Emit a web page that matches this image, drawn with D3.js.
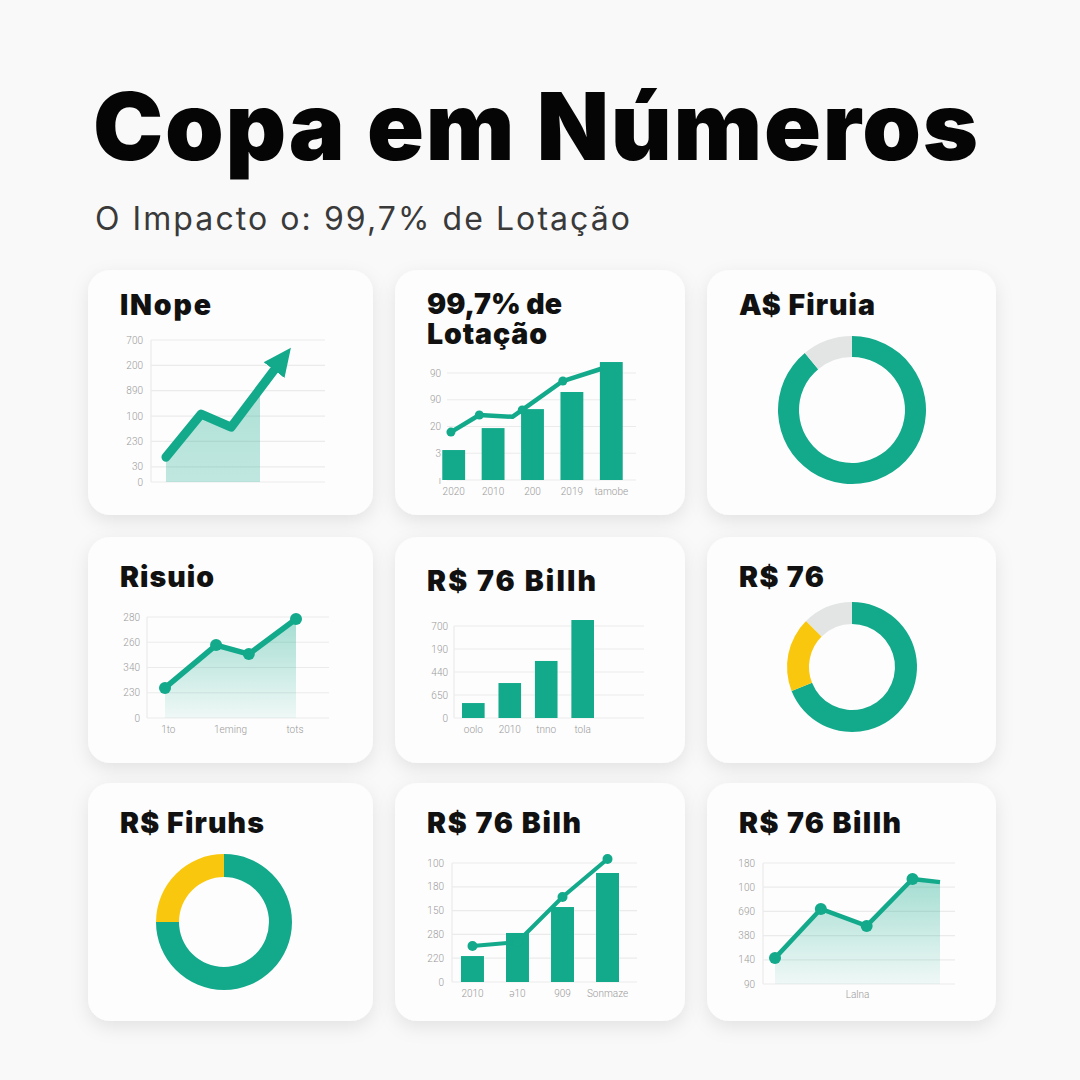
<!DOCTYPE html>
<html lang="pt">
<head>
<meta charset="UTF-8">
<title>Copa em Números</title>
<style>
  body { margin: 0; background: #f9f9f9; overflow: hidden; }
  svg { display: block; }
  .tick { font-family: Roboto, sans-serif; font-size: 10px; font-weight: 300; fill: #9a9a9a; }
  .card-title { font-family: Inter, sans-serif; font-weight: 900; font-size: 28.5px; fill: #111; }
</style>
</head>
<body>
<svg width="1080" height="1080"></svg>
<script src="https://d3js.org/d3.v7.min.js"></script>
<script>
// ---- data ----
const mainTitle = "Copa em Números";
const subTitle = "O Impacto o: 99,7% de Lotação";
const cardTitles = ["INope", "99,7% de|Lotação", "A$ Firuia", "Risuio", "R$ 76 Billh", "R$ 76", "R$ Firuhs", "R$ 76 Bilh", "R$ 76 Billh"];

// card 1 - INope (arrow line)
const nopeTicks = [0, 30, 80, 130, 180, 230, 280];
const nopeTickLabels = ["0", "30", "230", "100", "890", "200", "700"];
const nopeX = [0.43, 1.44, 2.3, 3.64];
const nopeY = [49, 134, 108, 230];
const nopeAreaEnd = 3.13;

// card 2 - Lotação (bars + line)
const lotCategories = ["2020", "2010", "200", "2019", "tamobe"];
const lotBars = [1.12, 1.94, 2.65, 3.29, 4.41];
const lotLineX = [0.43, 1.15, 1.99, 2.24, 3.27, 4.23];
const lotLineY = [1.79, 2.43, 2.36, 2.62, 3.70, 4.15];
const lotDots = [true, true, false, true, true, false];
const lotTicks = [0, 1, 2, 3, 4];
const lotTickLabels = ["ı", "3", "20", "90", "90"];

// card 3 - donut
const firuiaValues = [89, 11];

// card 4 - Risuio (area line)
const risuioX = [0, 1.56, 2.56, 4];
const risuioY = [1.19, 2.89, 2.53, 3.92];
const risuioTicks = [0, 1, 2, 3, 4];
const risuioTickLabels = ["0", "230", "340", "260", "280"];
const risuioXLabels = ["1to", "1eming", "tots"];
const risuioXLabelPos = [0.1, 2, 3.97];

// card 5 - Billh (bars)
const billhCategories = ["oolo", "2010", "tnno", "tola"];
const billhBars = [0.65, 1.52, 2.48, 4.26];
const billhTicks = [0, 1, 2, 3, 4];
const billhTickLabels = ["0", "650", "440", "190", "700"];

// card 6 - donut
const r76Values = [69, 18.5, 12.5];

// card 7 - donut
const firuhsValues = [75, 25];

// card 8 - Bilh (bars + line)
const bilhCategories = ["2010", "ə10", "909", "Sonmaze"];
const bilhBars = [1.09, 2.06, 3.15, 4.58];
const bilhLine = [1.51, 1.68, 3.57, 5.17];
const bilhTicks = [0, 1, 2, 3, 4, 5];
const bilhTickLabels = ["0", "220", "280", "150", "180", "100"];

// card 9 - Laina (area line)
const lainaX = [0, 1, 2, 3, 3.6];
const lainaY = [1.07, 3.10, 2.40, 4.34, 4.21];
const lainaDots = [true, true, true, true, false];
const lainaTicks = [0, 1, 2, 3, 4, 5];
const lainaTickLabels = ["90", "140", "380", "690", "100", "180"];
const lainaXLabel = "Lalna";

// ---- setup ----
const svg = d3.select("svg");
const teal = "#13a98b", yellow = "#f9c80e", ringGray = "#e3e5e5", gridColor = "#ebebeb";

const defs = svg.append("defs");
const shadow = defs.append("filter").attr("id", "shadow")
  .attr("x", "-20%").attr("y", "-20%").attr("width", "140%").attr("height", "150%");
shadow.append("feDropShadow").attr("dx", 0).attr("dy", 6).attr("stdDeviation", 9)
  .attr("flood-color", "#000").attr("flood-opacity", 0.09);

function gradient(id, top, bottom) {
  const g = defs.append("linearGradient").attr("id", id)
    .attr("x1", 0).attr("y1", 0).attr("x2", 0).attr("y2", 1);
  g.append("stop").attr("offset", "0%").attr("stop-color", teal).attr("stop-opacity", top);
  g.append("stop").attr("offset", "100%").attr("stop-color", teal).attr("stop-opacity", bottom);
}
gradient("fadeA", 0.36, 0.26);
gradient("fadeB", 0.38, 0.06);

defs.append("marker").attr("id", "arrow")
  .attr("markerUnits", "userSpaceOnUse")
  .attr("viewBox", "0 -14 28 28")
  .attr("refX", 6).attr("refY", 0)
  .attr("markerWidth", 28).attr("markerHeight", 28)
  .attr("orient", "auto")
  .append("path").attr("d", "M0,-13L28,0L0,13Z").attr("fill", teal);

// fit text to a target width by letter-spacing
function fitWidth(sel, width) {
  const n = sel.text().length;
  const w = sel.node().getComputedTextLength();
  sel.attr("letter-spacing", (width - w) / (n - 1));
}

// header
const t = svg.append("text").attr("x", 93).attr("y", 160)
  .style("font-family", "Inter, sans-serif").style("font-weight", 900)
  .style("font-size", "94px").attr("fill", "#050505").text(mainTitle);
fitWidth(t, 885);

const st = svg.append("text").attr("x", 95).attr("y", 230)
  .style("font-family", "Inter, sans-serif").style("font-weight", 400)
  .style("font-size", "32px").attr("fill", "#3a3a3a").text(subTitle);
fitWidth(st, 535);

// cards (tw = title widths in the reference)
const cardBoxes = [
  { x: 88, y: 270, w: 285, h: 245, ty: 315, tw: [91] },
  { x: 395, y: 270, w: 290, h: 245, ty: 314, tw: [135, 120] },
  { x: 707, y: 270, w: 289, h: 245, ty: 315, tw: [136] },
  { x: 88, y: 537, w: 285, h: 226, ty: 587, tw: [94] },
  { x: 395, y: 537, w: 290, h: 226, ty: 591, tw: [169] },
  { x: 707, y: 537, w: 289, h: 226, ty: 587, tw: [85] },
  { x: 88, y: 783, w: 285, h: 238, ty: 833, tw: [144] },
  { x: 395, y: 783, w: 290, h: 238, ty: 833, tw: [154] },
  { x: 707, y: 783, w: 289, h: 238, ty: 833, tw: [162] }
];

cardBoxes.forEach((c, i) => {
  svg.append("rect").attr("x", c.x).attr("y", c.y).attr("width", c.w).attr("height", c.h)
    .attr("rx", 22).attr("fill", "#fdfdfd").attr("filter", "url(#shadow)");
  const title = svg.append("text").attr("class", "card-title");
  cardTitles[i].split("|").forEach((l, j) => {
    const span = title.append("tspan")
      .attr("x", c.x + 32).attr("y", c.ty + j * 30).text(l);
    fitWidth(span, c.tw[j]);
  });
});

// y grid + tick labels
function yGrid(ticks, labels, y, x0, x1, labelX, axisLine) {
  const g = svg.append("g");
  g.selectAll("line.grid").data(ticks).join("line").attr("class", "grid")
    .attr("x1", x0).attr("x2", x1)
    .attr("y1", d => y(d)).attr("y2", d => y(d))
    .attr("stroke", gridColor).attr("stroke-width", 1.2);
  if (axisLine) {
    g.append("line").attr("x1", x0).attr("x2", x0)
      .attr("y1", y(ticks[0])).attr("y2", y(ticks[ticks.length - 1]))
      .attr("stroke", gridColor).attr("stroke-width", 1.2);
  }
  g.selectAll("text").data(ticks).join("text").attr("class", "tick")
    .attr("x", labelX).attr("y", d => y(d)).attr("dy", "0.35em")
    .attr("text-anchor", "end").text((d, i) => labels[i]);
  return g;
}

function donut(values, colors, cx, cy, r0, r1) {
  const pie = d3.pie().sort(null).value(d => d);
  const arc = d3.arc().innerRadius(r0).outerRadius(r1);
  svg.append("g").attr("transform", `translate(${cx},${cy})`)
    .selectAll("path").data(pie(values)).join("path")
    .attr("d", arc).attr("fill", (d, i) => colors[i]);
}

// ---- card 1: INope ----
{
  const x = d3.scaleLinear().domain([0, 5]).range([151, 325]);
  const y = d3.scaleLinear().domain([0, 280]).range([482, 340]);
  yGrid(nopeTicks, nopeTickLabels, y, 151, 325, 143, true);
  const pts = nopeX.map((v, i) => [v, nopeY[i]]);
  defs.append("clipPath").attr("id", "nopeClip").append("rect")
    .attr("x", x(0)).attr("y", y(280)).attr("width", x(nopeAreaEnd) - x(0)).attr("height", y(0) - y(280));
  svg.append("path").datum(pts).attr("clip-path", "url(#nopeClip)")
    .attr("d", d3.area().x(d => x(d[0])).y0(y(0)).y1(d => y(d[1])))
    .attr("fill", "url(#fadeA)");
  svg.append("path").datum(pts)
    .attr("d", d3.line().x(d => x(d[0])).y(d => y(d[1])))
    .attr("fill", "none").attr("stroke", teal).attr("stroke-width", 9)
    .attr("stroke-linejoin", "round").attr("stroke-linecap", "round")
    .attr("marker-end", "url(#arrow)");
}

// ---- card 2: Lotação ----
{
  const x = d3.scaleBand().domain(lotCategories).range([434, 631]).paddingInner(0.42).paddingOuter(0.21);
  const xl = d3.scaleLinear().domain([0, 5]).range([434, 631]);
  const y = d3.scaleLinear().domain([0, 4]).range([480, 373]);
  yGrid(lotTicks, lotTickLabels, y, 447, 636, 441, false);
  svg.append("g").selectAll("rect").data(lotBars).join("rect")
    .attr("x", (d, i) => x(lotCategories[i])).attr("width", x.bandwidth())
    .attr("y", d => y(d)).attr("height", d => y(0) - y(d)).attr("fill", teal);
  const pts = lotLineX.map((v, i) => [v, lotLineY[i]]);
  svg.append("path").datum(pts)
    .attr("d", d3.line().x(d => xl(d[0])).y(d => y(d[1])))
    .attr("fill", "none").attr("stroke", teal).attr("stroke-width", 4.5)
    .attr("stroke-linejoin", "round").attr("stroke-linecap", "round");
  svg.append("g").selectAll("circle").data(pts.filter((d, i) => lotDots[i])).join("circle")
    .attr("cx", d => xl(d[0])).attr("cy", d => y(d[1])).attr("r", 4.5).attr("fill", teal);
  svg.append("g").selectAll("text").data(lotCategories).join("text").attr("class", "tick")
    .attr("x", d => x(d) + x.bandwidth() / 2).attr("y", 495).attr("text-anchor", "middle").text(d => d);
}

// ---- card 3: donut ----
donut(firuiaValues, [teal, ringGray], 852, 410, 53, 74);

// ---- card 4: Risuio ----
{
  const x = d3.scaleLinear().domain([0, 4]).range([165, 296]);
  const y = d3.scaleLinear().domain([0, 4]).range([718, 617]);
  yGrid(risuioTicks, risuioTickLabels, y, 147, 329, 140, true);
  const pts = risuioX.map((v, i) => [v, risuioY[i]]);
  svg.append("path").datum(pts)
    .attr("d", d3.area().x(d => x(d[0])).y0(y(0)).y1(d => y(d[1])))
    .attr("fill", "url(#fadeB)");
  svg.append("path").datum(pts)
    .attr("d", d3.line().x(d => x(d[0])).y(d => y(d[1])))
    .attr("fill", "none").attr("stroke", teal).attr("stroke-width", 5.5)
    .attr("stroke-linejoin", "round");
  svg.append("g").selectAll("circle").data(pts).join("circle")
    .attr("cx", d => x(d[0])).attr("cy", d => y(d[1])).attr("r", 6).attr("fill", teal);
  svg.append("g").selectAll("text").data(risuioXLabels).join("text").attr("class", "tick")
    .attr("x", (d, i) => x(risuioXLabelPos[i])).attr("y", 733).attr("text-anchor", "middle").text(d => d);
}

// ---- card 5: Billh ----
{
  const x = d3.scaleBand().domain(billhCategories).range([454, 602]).paddingInner(0.38).paddingOuter(0.22);
  const y = d3.scaleLinear().domain([0, 4]).range([718, 626]);
  yGrid(billhTicks, billhTickLabels, y, 454, 644, 448, true);
  svg.append("g").selectAll("rect").data(billhBars).join("rect")
    .attr("x", (d, i) => x(billhCategories[i])).attr("width", x.bandwidth())
    .attr("y", d => y(d)).attr("height", d => y(0) - y(d)).attr("fill", teal);
  svg.append("g").selectAll("text").data(billhCategories).join("text").attr("class", "tick")
    .attr("x", d => x(d) + x.bandwidth() / 2).attr("y", 733).attr("text-anchor", "middle").text(d => d);
}

// ---- card 6: donut ----
donut(r76Values, [teal, yellow, ringGray], 852, 667, 43, 65);

// ---- card 7: donut ----
donut(firuhsValues, [teal, yellow], 224, 922, 45, 68);

// ---- card 8: Bilh ----
{
  const x = d3.scaleBand().domain(bilhCategories).range([452, 628]).paddingInner(0.49).paddingOuter(0.2);
  const y = d3.scaleLinear().domain([0, 5]).range([982, 863]);
  yGrid(bilhTicks, bilhTickLabels, y, 452, 637, 444, true);
  svg.append("g").selectAll("rect").data(bilhBars).join("rect")
    .attr("x", (d, i) => x(bilhCategories[i])).attr("width", x.bandwidth())
    .attr("y", d => y(d)).attr("height", d => y(0) - y(d)).attr("fill", teal);
  const cx = c => x(c) + x.bandwidth() / 2;
  svg.append("path").datum(bilhLine)
    .attr("d", d3.line().x((d, i) => cx(bilhCategories[i])).y(d => y(d)))
    .attr("fill", "none").attr("stroke", teal).attr("stroke-width", 4);
  svg.append("g").selectAll("circle").data(bilhLine).join("circle")
    .attr("cx", (d, i) => cx(bilhCategories[i])).attr("cy", d => y(d)).attr("r", 5).attr("fill", teal);
  svg.append("g").selectAll("text").data(bilhCategories).join("text").attr("class", "tick")
    .attr("x", d => cx(d)).attr("y", 997).attr("text-anchor", "middle").text(d => d);
}

// ---- card 9: Laina ----
{
  const x = d3.scaleLinear().domain([0, 3.6]).range([775, 940]);
  const y = d3.scaleLinear().domain([0, 5]).range([984, 863]);
  yGrid(lainaTicks, lainaTickLabels, y, 763, 955, 755, true);
  const pts = lainaX.map((v, i) => [v, lainaY[i]]);
  svg.append("path").datum(pts)
    .attr("d", d3.area().x(d => x(d[0])).y0(y(0)).y1(d => y(d[1])))
    .attr("fill", "url(#fadeB)");
  svg.append("path").datum(pts)
    .attr("d", d3.line().x(d => x(d[0])).y(d => y(d[1])))
    .attr("fill", "none").attr("stroke", teal).attr("stroke-width", 4.5)
    .attr("stroke-linejoin", "round");
  svg.append("g").selectAll("circle").data(pts.filter((d, i) => lainaDots[i])).join("circle")
    .attr("cx", d => x(d[0])).attr("cy", d => y(d[1])).attr("r", 6).attr("fill", teal);
  svg.append("text").attr("class", "tick")
    .attr("x", x(1.8)).attr("y", 998).attr("text-anchor", "middle").text(lainaXLabel);
}
</script>
</body>
</html>
